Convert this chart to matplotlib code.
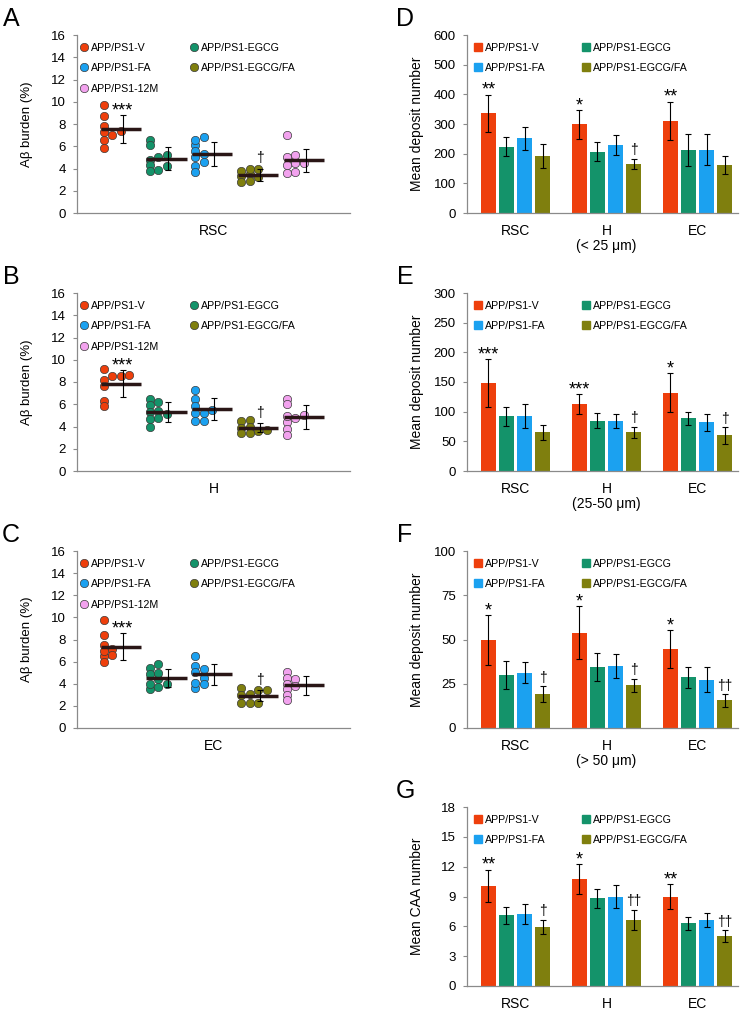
import numpy as np
import matplotlib
matplotlib.use("Agg")
import matplotlib.pyplot as plt
from matplotlib.lines import Line2D

plt.rcParams['font.family'] = ['Liberation Sans', 'DejaVu Sans']

# ---- data ----
groups = ['APP/PS1-V', 'APP/PS1-EGCG', 'APP/PS1-FA', 'APP/PS1-EGCG/FA', 'APP/PS1-12M']
colors = ['#EE3F0C', '#14936A', '#1BA1F0', '#7F7F0E', '#F2A2EE']

# A-C: Abeta burden (%) per animal, one list per group
rsc_dots = [[9.7, 8.7, 7.8, 7.4, 6.6, 5.8, 7.3, 7.0],
            [6.6, 5.2, 4.8, 4.3, 3.8, 6.1, 5.0, 4.2, 3.9],
            [6.8, 6.1, 5.6, 5.0, 4.6, 4.2, 3.7, 6.6, 5.3],
            [4.0, 3.5, 2.9, 4.0, 3.3, 2.8, 3.8, 3.2],
            [7.0, 5.2, 4.5, 3.7, 5.0, 4.5, 3.6, 4.3]]
rsc_sd = [1.23, 1.05, 1.1, 0.55, 1.05]

h_dots = [[9.2, 8.6, 8.5, 8.5, 8.2, 7.6, 6.3, 5.8],
          [6.5, 6.2, 5.9, 5.4, 5.3, 5.1, 4.8, 4.7, 4.0],
          [7.3, 6.5, 5.8, 5.5, 5.2, 5.2, 4.5, 4.5],
          [4.6, 4.5, 4.0, 3.9, 3.4, 3.4, 3.7, 3.6],
          [6.5, 6.0, 5.0, 4.4, 3.8, 3.2, 4.9, 4.8]]
h_sd = [1.2, 0.9, 1.0, 0.42, 1.08]

ec_dots = [[9.8, 8.4, 7.5, 7.1, 6.5, 6.0, 7.0, 6.6],
           [5.8, 5.4, 4.9, 4.4, 4.0, 3.5, 5.0, 4.0, 3.7],
           [6.5, 5.6, 4.5, 3.6, 5.3, 4.1, 5.1, 4.0],
           [3.6, 3.0, 2.3, 3.4, 2.3, 3.4, 2.3, 3.1],
           [5.1, 4.5, 4.0, 3.5, 3.0, 2.5, 4.4, 3.8]]
ec_sd = [1.2, 0.85, 0.95, 0.5, 0.85]

# D-G: bars, rows = V, EGCG, FA, EGCG/FA ; columns = RSC, H, EC
regions = ['RSC', 'H', 'EC']
small_mean = [[336, 299, 311], [224, 207, 213], [252, 229, 213], [193, 166, 161]]
small_err = [[63, 48, 64], [33, 32, 53], [38, 35, 52], [41, 17, 30]]
mid_mean = [[148, 113, 132], [92, 85, 89], [93, 84, 82], [65, 65, 60]]
mid_err = [[40, 17, 33], [16, 12, 11], [20, 12, 14], [13, 10, 14]]
large_mean = [[49.7, 53.8, 44.5], [30, 34.5, 28.7], [31.3, 34.9, 27.4], [19.3, 24.2, 15.6]]
large_err = [[14, 15, 10.8], [8, 8, 6], [6, 6.7, 7.3], [4.4, 3.7, 3.6]]
caa_mean = [[10.07, 10.78, 8.97], [7.09, 8.8, 6.31], [7.22, 8.97, 6.62], [5.94, 6.68, 5.04]]
caa_err = [[1.63, 1.5, 1.25], [0.87, 0.95, 0.65], [1.0, 1.17, 0.7], [0.74, 1.0, 0.6]]

small_stars = ['**', '*', '**']
small_dag = ['', '†', '']
mid_stars = ['***', '***', '*']
mid_dag = ['', '†', '†']
large_stars = ['*', '*', '*']
large_dag = ['†', '†', '††']
caa_stars = ['**', '*', '**']
caa_dag = ['†', '††', '††']

W, H = 745, 1011
fig = plt.figure(figsize=(W / 100, H / 100), dpi=100)
AXC = '#8A8A8A'


def px_axes(x0, y0, x1, y1):
    return fig.add_axes([x0 / W, 1 - y1 / H, (x1 - x0) / W, (y1 - y0) / H])


def style(ax):
    for s in ['top', 'right']:
        ax.spines[s].set_visible(False)
    for s in ['left', 'bottom']:
        ax.spines[s].set_color(AXC)
        ax.spines[s].set_linewidth(0.9)
    ax.tick_params(axis='y', length=3, color=AXC, labelsize=9.5, pad=5)
    ax.tick_params(axis='x', length=0, labelsize=10, pad=8)


def swarm_cols(vals, gap=0.5):
    placed = []
    cols = np.zeros(len(vals), int)
    for i in np.argsort(vals):
        c = 0
        while True:
            if c >= len(placed):
                placed.append([])
            if all(abs(vals[i] - v) >= gap - 1e-9 for v in placed[c]):
                placed[c].append(vals[i])
                cols[i] = c
                break
            c += 1
    return cols


def add_legend(ax, handles, labels, colsp, x0):
    ax.legend(handles, labels, ncol=2, loc='upper left',
              bbox_to_anchor=(x0, 1.0), frameon=False, fontsize=7.7,
              handlelength=0.7, handletextpad=0.3, columnspacing=colsp,
              labelspacing=0.98, borderaxespad=0, borderpad=0.72)


def dot_panel(box, letter, dots, sd, region):
    ax = px_axes(*box)
    style(ax)
    step = 0.186
    for g, vals in enumerate(dots):
        base = 0.59 + g
        cols = swarm_cols(vals)
        ax.scatter(base + cols * step, vals, s=36, color=colors[g],
                   edgecolor='#3a3a3a', linewidth=0.5, zorder=3)
        m = np.mean(vals)
        ex = base + 0.41
        ax.hlines(m, base - 0.07, base + 0.81, color='#2A1616', lw=2.5, zorder=5)
        ax.errorbar(ex, m, yerr=sd[g], color='black', lw=0.8, capsize=2, capthick=0.8, zorder=6)
        if g == 0:
            ax.text(ex, m + sd[g] - 0.4, '***', ha='center', va='bottom', fontsize=13)
        if g == 3:
            ax.text(ex, m + sd[g] + 0.3, '†', ha='center', va='bottom', fontsize=10)
    ax.set_xlim(0, 273 / 45.7)
    ax.set_ylim(0, 16)
    ax.set_yticks(range(0, 17, 2))
    ax.set_xticks([273 / 45.7 / 2])
    ax.set_xticklabels([region])
    ax.set_ylabel('Aβ burden (%)', fontsize=9.5)
    ax.yaxis.set_label_coords(-0.16, 0.5)
    order = [0, 2, 4, 1, 3]
    handles = [Line2D([], [], ls='', marker='o', ms=6, color=colors[i],
                      mec='#3a3a3a', mew=0.5) for i in order]
    add_legend(ax, handles, [groups[i] for i in order], 2.85, -0.015)
    fig.text((box[0] - 77 + 11) / W, 1 - (box[1] - 35 + 19) / H, letter,
             fontsize=18, ha='center', va='center')
    return ax


def bar_panel(box, letter, means, errs, ymax, ystep, ylabel, stars, dags, sub):
    ax = px_axes(*box)
    style(ax)
    means = np.array(means)
    errs = np.array(errs)
    x = np.arange(len(regions))
    for k in range(4):
        xs = x + (k - 1.5) * 0.198
        ax.bar(xs, means[k], width=0.165, color=colors[k], zorder=2)
        ax.errorbar(xs, means[k], yerr=errs[k], fmt='none', ecolor='black',
                    elinewidth=0.8, capsize=2, capthick=0.8, zorder=3)
        for j in range(3):
            lab = stars[j] if k == 0 else (dags[j] if k == 3 else '')
            if lab:
                ax.annotate(lab, (xs[j], means[k][j] + errs[k][j]),
                            xytext=(0, -3 if k == 0 else 1),
                            textcoords='offset points', ha='center', va='bottom',
                            fontsize=13 if k == 0 else 10)
    ax.set_xlim(-0.533, 2.445)
    ax.set_ylim(0, ymax)
    ax.set_yticks(np.arange(0, ymax + ystep / 2, ystep))
    ax.set_xticks(x)
    labs = list(regions)
    if sub:
        labs[1] = 'H\n' + sub
    ax.set_xticklabels(labs, linespacing=1.05)
    ax.set_ylabel(ylabel, fontsize=10)
    ax.yaxis.set_label_coords(-0.16, 0.5)
    order = [0, 2, 1, 3]
    handles = [Line2D([], [], ls='', marker='s', ms=5.5, color=colors[i]) for i in order]
    add_legend(ax, handles, [groups[i] for i in order], 3.4, 0.0)
    fig.text((box[0] - 467 + 405) / W, 1 - (box[1] - 35 + 19) / H, letter,
             fontsize=18, ha='center', va='center')
    return ax


dot_panel((77, 35, 350, 213), 'A', rsc_dots, rsc_sd, 'RSC')
dot_panel((77, 293, 350, 471), 'B', h_dots, h_sd, 'H')
dot_panel((77, 551, 350, 728), 'C', ec_dots, ec_sd, 'EC')

bar_panel((467, 35, 738, 213), 'D', small_mean, small_err, 600, 100,
          'Mean deposit number', small_stars, small_dag, '(< 25 μm)')
bar_panel((467, 293, 738, 471), 'E', mid_mean, mid_err, 300, 50,
          'Mean deposit number', mid_stars, mid_dag, '(25-50 μm)')
bar_panel((467, 551, 738, 728), 'F', large_mean, large_err, 100, 25,
          'Mean deposit number', large_stars, large_dag, '(> 50 μm)')
bar_panel((467, 807, 738, 986), 'G', caa_mean, caa_err, 18, 3,
          'Mean CAA number', caa_stars, caa_dag, '')

fig.savefig('out.png', dpi=100)
